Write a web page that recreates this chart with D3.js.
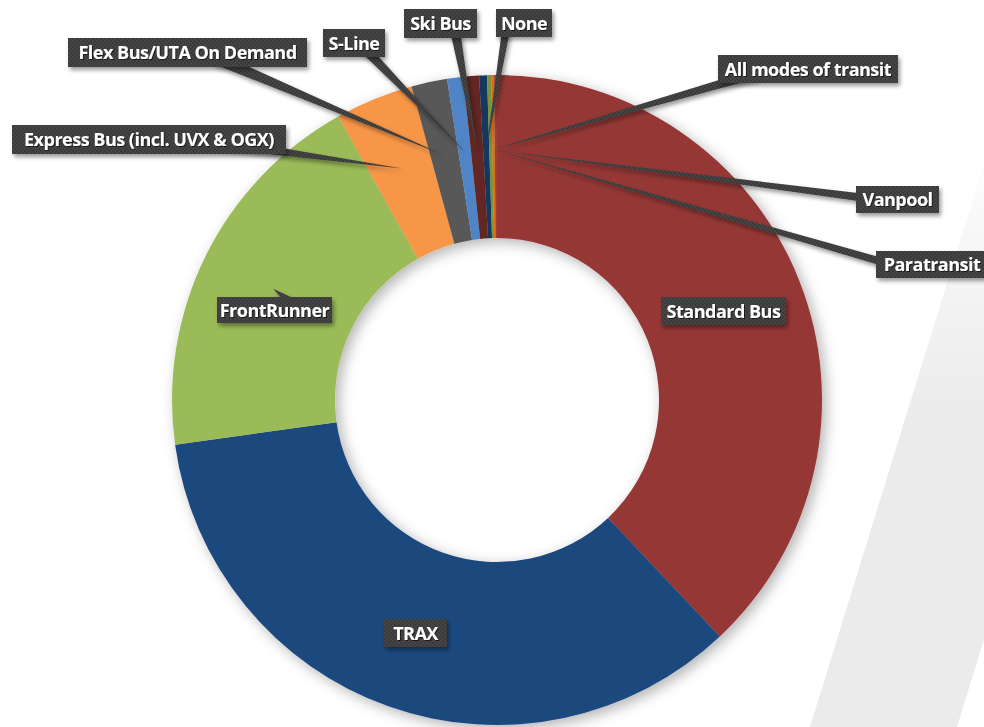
<!DOCTYPE html>
<html>
<head>
<meta charset="utf-8">
<script src="https://cdn.jsdelivr.net/npm/d3@7/dist/d3.min.js"></script>
<style>
  body { margin: 0; background: #ffffff; }
  svg { display: block; }
</style>
</head>
<body>
<script>
// transit mode share (percent)
var modes = ["Standard Bus", "TRAX", "FrontRunner", "Express Bus (incl. UVX & OGX)",
             "Flex Bus/UTA On Demand", "S-Line", "Ski Bus", "None",
             "All modes of transit", "Vanpool", "Paratransit"];
var shares = [38.0, 34.85, 19.08, 3.89, 1.78, 0.8, 0.78, 0.39, 0.2, 0.15, 0.14];
var sliceColors = ["#953735", "#1f497d", "#9bbb59", "#f79646", "#595959", "#4f85c6",
                   "#632523", "#17375e", "#77933c", "#e46c0a", "#a33c39"];

var width = 984,
    height = 727,
    cx = 497,
    cy = 400,
    outerR = 325,
    innerR = 162;

// where each callout box sits and where its pointer leaves the box
var callouts = [
  {box: [661, 297, 125, 28], base: null},
  {box: [384, 619, 63, 28], base: null},
  {box: [217, 297, 115, 26], base: [292, 303], hw: 5},
  {box: [12, 125, 274, 29], base: [205, 141], hw: 6},
  {box: [68, 38, 239, 29], base: [215, 58], hw: 6},
  {box: [323, 29, 62, 28], base: [364, 48], hw: 5},
  {box: [404, 9, 73, 29], base: [455, 30], hw: 5},
  {box: [496, 9, 56, 28], base: [506, 30], hw: 4},
  {box: [718, 55, 180, 28], base: [762, 72], hw: 5},
  {box: [856, 186, 83, 27], base: [866, 198], hw: 4},
  {box: [876, 251, 112, 27], base: [886, 263], hw: 4}
];

var svg = d3.select("body").append("svg")
  .attr("width", width)
  .attr("height", height);

var defs = svg.append("defs");
addDefs();
addStripe();

var pie = d3.pie().sort(null).value(function(d) { return d; });
var arcs = pie(shares);
var arc = d3.arc().innerRadius(innerR).outerRadius(outerR);
var pointArc = d3.arc().innerRadius(240).outerRadius(260);

var ring = svg.append("g")
  .attr("transform", "translate(" + cx + "," + cy + ")")
  .attr("filter", "url(#ringShadow)");

ring.selectAll("path")
  .data(arcs)
  .enter().append("path")
  .attr("d", arc)
  .attr("fill", function(d, i) { return sliceColors[i]; });

// pointers first, then boxes on top of them
var labelLayer = svg.append("g");
arcs.forEach(function(d, i) { addPointer(d, callouts[i]); });
arcs.forEach(function(d, i) { addCallout(modes[i], callouts[i]); });

function addDefs() {
  var dots = defs.append("pattern")
    .attr("id", "dots")
    .attr("width", 4)
    .attr("height", 4)
    .attr("patternUnits", "userSpaceOnUse");
  dots.append("rect").attr("width", 4).attr("height", 4).attr("fill", "#3a3a3a");
  dots.append("circle").attr("cx", 1).attr("cy", 1).attr("r", 0.8).attr("fill", "#505050");
  dots.append("circle").attr("cx", 3).attr("cy", 3).attr("r", 0.8).attr("fill", "#505050");

  var ringShadow = defs.append("filter").attr("id", "ringShadow")
    .attr("x", "-20%").attr("y", "-20%").attr("width", "140%").attr("height", "140%");
  ringShadow.append("feDropShadow")
    .attr("dx", 4).attr("dy", 4).attr("stdDeviation", 7)
    .attr("flood-color", "#000").attr("flood-opacity", 0.3);

  var boxShadow = defs.append("filter").attr("id", "boxShadow")
    .attr("x", "-20%").attr("y", "-40%").attr("width", "140%").attr("height", "180%");
  boxShadow.append("feDropShadow")
    .attr("dx", 2).attr("dy", 3).attr("stdDeviation", 2)
    .attr("flood-color", "#000").attr("flood-opacity", 0.4);

  var textShadow = defs.append("filter").attr("id", "textShadow");
  textShadow.append("feDropShadow")
    .attr("dx", 1).attr("dy", 1).attr("stdDeviation", 0.6)
    .attr("flood-color", "#000").attr("flood-opacity", 0.6);

  var fade = defs.append("linearGradient")
    .attr("id", "stripeFade")
    .attr("gradientUnits", "userSpaceOnUse")
    .attr("x1", 0).attr("y1", 120).attr("x2", 0).attr("y2", 420);
  fade.append("stop").attr("offset", 0).attr("stop-color", "#ebebeb").attr("stop-opacity", 0);
  fade.append("stop").attr("offset", 1).attr("stop-color", "#ebebeb").attr("stop-opacity", 1);
}

function addStripe() {
  // faint diagonal band behind the chart on the right
  svg.append("polygon")
    .attr("points", "1022,40 810,727 957,727 1169,40")
    .attr("fill", "url(#stripeFade)");
}

function addPointer(d, c) {
  if (!c.base) return;
  var tip = pointArc.centroid(d);
  var tx = tip[0] + cx, ty = tip[1] + cy,
      bx = c.base[0], by = c.base[1],
      len = Math.sqrt((tx - bx) * (tx - bx) + (ty - by) * (ty - by)),
      nx = -(ty - by) / len * c.hw,
      ny = (tx - bx) / len * c.hw;
  labelLayer.append("polygon")
    .attr("points", [[bx + nx, by + ny], [tx, ty], [bx - nx, by - ny]].join(" "))
    .attr("fill", "url(#dots)")
    .attr("filter", "url(#boxShadow)");
}

function addCallout(name, c) {
  var b = c.box;
  labelLayer.append("rect")
    .attr("x", b[0])
    .attr("y", b[1])
    .attr("width", b[2])
    .attr("height", b[3])
    .attr("fill", "url(#dots)")
    .attr("filter", "url(#boxShadow)");
  labelLayer.append("text")
    .attr("x", b[0] + b[2] / 2)
    .attr("y", b[1] + b[3] / 2 + 6.5)
    .attr("text-anchor", "middle")
    .attr("filter", "url(#textShadow)")
    .style("font-family", "'Open Sans', sans-serif")
    .style("font-weight", "700")
    .style("font-size", "18px")
    .style("letter-spacing", "-0.5px")
    .style("fill", "#ffffff")
    .text(name);
}
</script>
</body>
</html>
